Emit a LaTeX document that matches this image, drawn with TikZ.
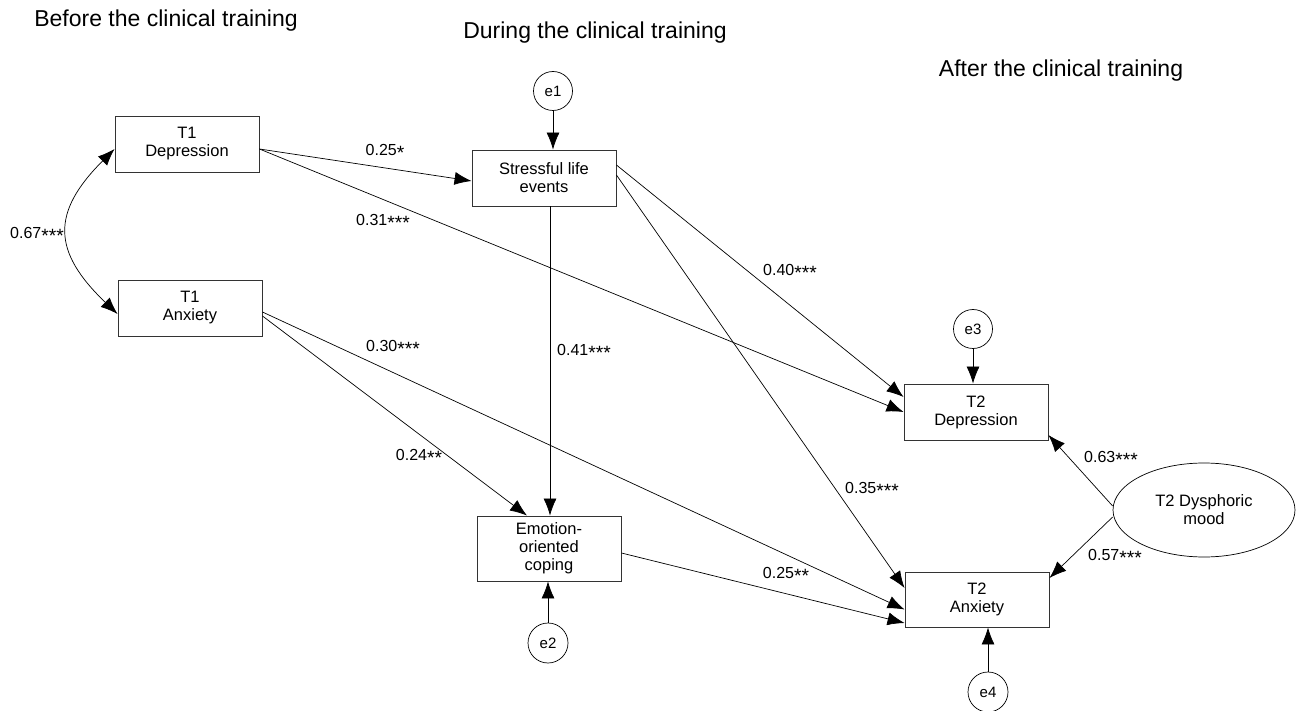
\documentclass[tikz,border=0pt]{standalone}
\usepackage{fontspec}
\usepackage{graphicx}
\setmainfont{Liberation Sans}
\usetikzlibrary{arrows.meta,shapes.geometric}

% centred significance star
\newcommand{\sg}{\raisebox{-0.3em}{\scalebox{1.2}{*}}}

\begin{document}
\begin{tikzpicture}[
        x=1pt, y=-1pt,
        every node/.style={align=center, font=\fontsize{16.5}{18}\selectfont},
        var/.style={draw=black!80, line width=0.9pt, rectangle, minimum width=144pt, minimum height=56pt, inner sep=0pt},
        err/.style={draw, circle, line width=0.7pt, minimum size=39pt, inner sep=0pt, font=\fontsize{15}{16}\selectfont},
        latent/.style={draw, ellipse, line width=0.7pt, minimum width=182pt, minimum height=94pt, inner sep=0pt},
        phase/.style={anchor=base, font=\fontsize{23}{26}\selectfont},
        coef/.style={inner sep=1pt, font=\fontsize{16}{18}\selectfont},
        reg/.style={draw, line width=0.7pt, -{Latex[length=17pt,width=13pt]}},
    ]
    \useasboundingbox (0,0) rectangle (1296,711);

    % time points
    \node[phase](before) at (166,27){Before the clinical training};
    \node[phase](during) at (595,39){During the clinical training};
    \node[phase](after) at (1061,77){After the clinical training};

    % observed variables
    \node[var](t1dep) at (187,144){T1\\Depression};
    \node[var](t1anx) at (190,308){T1\\Anxiety};
    \node[var](stress) at (544,178){Stressful life\\events};
    \node[var, minimum height=65pt](coping) at (549,548.5){Emotion-\\oriented\\coping};
    \node[var](t2dep) at (976,412){T2\\Depression};
    \node[var, minimum height=55pt](t2anx) at (977,599.5){T2\\Anxiety};
    \node[latent](mood) at (1204,510){T2 Dysphoric\\mood};

    % residuals
    \node[err](e1) at (553,91){e1};
    \node[err, minimum size=40pt](e2) at (548,643){e2};
    \node[err](e3) at (973,329){e3};
    \node[err, minimum size=40pt](e4) at (988,692){e4};

    % paths
    \draw[reg] ([yshift=-5pt]t1dep.east) -- ([yshift=-3pt]stress.west);
    \draw[reg] ([yshift=-5pt]t1dep.east) -- (t2dep.west);
    \draw[reg] ([yshift=-4pt]t1anx.east) -- ([yshift=-10pt]t2anx.west);
    \draw[reg] ([yshift=-8pt]t1anx.east) -- ([xshift=-22pt]coping.north);
    \draw[reg] ([xshift=6pt]stress.south) -- ([xshift=1pt]coping.north);
    \draw[reg] ([yshift=13pt]stress.east) -- ([yshift=15pt]t2dep.west);
    \draw[reg] ([yshift=3pt]stress.east) -- ([yshift=11.5pt]t2anx.west);
    \draw[reg] ([yshift=-4.5pt]coping.east) -- ([yshift=-23.5pt]t2anx.west);
    \draw[reg] ([yshift=4pt]mood.west) -- ([yshift=-23pt]t2dep.east);
    \draw[reg] ([yshift=-7pt]mood.west) -- ([yshift=21.5pt]t2anx.east);
    \draw[reg] (e1) -- (e1 |- stress.north);
    \draw[reg] (e2) -- (e2 |- coping.south);
    \draw[reg] (e3) -- (e3 |- t2dep.north);
    \draw[reg] (e4) -- (e4 |- t2anx.south);
    % correlation
    \draw[line width=0.7pt, {Latex[length=17pt,width=13pt]}-{Latex[length=17pt,width=13pt]}]
        ([yshift=-5pt]t1dep.west) .. controls +(-63,63) and +(-66,-63) .. ([yshift=-6pt]t1anx.west);

    % coefficients
    \node[coef](c1) at (385,152){0.25\sg};
    \node[coef](c2) at (383,222){0.31\sg\sg\sg};
    \node[coef](c3) at (393,348){0.30\sg\sg\sg};
    \node[coef](c4) at (419,457){0.24\sg\sg};
    \node[coef](c5) at (584,352){0.41\sg\sg\sg};
    \node[coef](c6) at (790,272){0.40\sg\sg\sg};
    \node[coef](c7) at (872,490){0.35\sg\sg\sg};
    \node[coef](c8) at (786,575){0.25\sg\sg};
    \node[coef](c9) at (1111,459){0.63\sg\sg\sg};
    \node[coef](c10) at (1115,557){0.57\sg\sg\sg};
    \node[coef](c11) at (37,235){0.67\sg\sg\sg};
\end{tikzpicture}
\end{document}
